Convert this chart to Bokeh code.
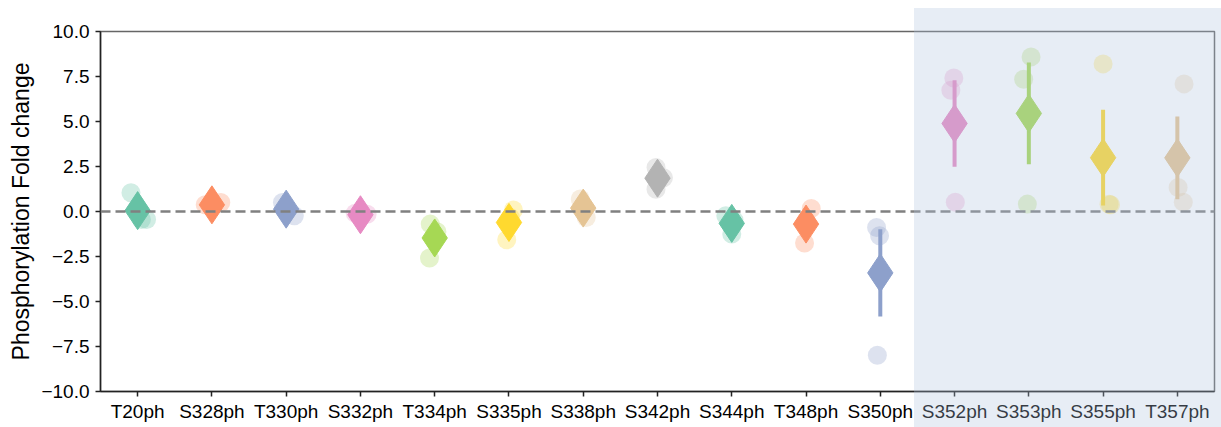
from bokeh.plotting import figure
from bokeh.models import FactorRange, Range1d, FixedTicker, Span, ColumnDataSource, InlineStyleSheet
from bokeh.embed import file_html
from bokeh.resources import INLINE

sites = ["T20ph", "S328ph", "T330ph", "S332ph", "T334ph", "S335ph", "S338ph", "S342ph",
         "S344ph", "T348ph", "S350ph", "S352ph", "S353ph", "S355ph", "T357ph"]
means = [0.05, 0.37, 0.13, -0.18, -1.47, -0.61, 0.19, 1.85, -0.66, -0.70, -3.41,
         4.89, 5.45, 2.99, 2.98]
sems = [0.50, 0.08, 0.20, 0.06, 0.57, 0.48, 0.30, 0.35, 0.30, 0.56, 2.43,
        2.40, 2.83, 2.66, 2.30]
replicates = [
    [1.04, -0.44, -0.45],
    [0.37, 0.50, 0.24],
    [0.50, -0.24, 0.13],
    [-0.10, -0.15, -0.30],
    [-0.70, -2.58, -1.13],
    [0.08, -1.57, -0.34],
    [0.69, -0.33, 0.21],
    [2.44, 1.24, 1.88],
    [-0.24, -1.25, -0.49],
    [0.17, -1.75, -0.52],
    [-0.89, -1.35, -7.99],
    [7.42, 6.74, 0.52],
    [8.59, 7.35, 0.41],
    [8.20, 0.37, 0.40],
    [7.09, 1.33, 0.52],
]
jitter = [
    [-0.09, 0.12, 0.05],
    [-0.09, 0.12, 0.00],
    [-0.05, 0.11, 0.00],
    [-0.07, 0.09, 0.00],
    [-0.06, -0.07, 0.03],
    [0.06, -0.03, 0.02],
    [-0.04, 0.04, 0.00],
    [-0.02, -0.02, 0.08],
    [-0.08, 0.00, 0.03],
    [0.07, -0.02, 0.00],
    [-0.05, -0.01, -0.04],
    [-0.01, -0.05, 0.01],
    [0.03, -0.07, -0.02],
    [0.00, 0.10, 0.08],
    [0.09, 0.01, 0.08],
]
y_ticks = [-10.0, -7.5, -5.0, -2.5, 0.0, 2.5, 5.0, 7.5, 10.0]
y_tick_labels = ["\u221210.0", "\u22127.5", "\u22125.0", "\u22122.5", "0.0", "2.5", "5.0", "7.5", "10.0"]
set2 = ["#66c2a5", "#fc8d62", "#8da0cb", "#e78ac3", "#a6d854", "#ffd92f", "#e5c494", "#b3b3b3"]

colors = [set2[i % len(set2)] for i in range(len(sites))]

FONT = "Liberation Sans"

# translucent band over the last sites, reaching past the frame over the tick labels
band_css = InlineStyleSheet(css="""
:host { position: relative; }
:host::after {
  content: "";
  position: absolute;
  left: 914px; top: 8px; width: 307px; height: 419px;
  background-color: rgba(176, 196, 222, 0.3);
  pointer-events: none;
  z-index: 10;
}
""")

p = figure(width=1221, height=427, output_backend="svg", toolbar_location=None,
           x_range=FactorRange(factors=sites, range_padding=0),
           y_range=Range1d(-10, 10),
           min_border_left=100, min_border_right=7, min_border_top=31, min_border_bottom=36,
           stylesheets=[band_css])
p.grid.visible = False
p.outline_line_color = "#666666"
p.outline_line_width = 1.5

# replicate points
px, py, pc = [], [], []
for i, s in enumerate(sites):
    for v, off in zip(replicates[i], jitter[i]):
        px.append((s, off))
        py.append(v)
        pc.append(colors[i])
p.scatter(x=px, y=py, color=pc, size=19, fill_alpha=0.3, line_alpha=0)

# error bars (mean +/- sem)
src = ColumnDataSource(dict(
    x=sites, m=means,
    lo=[m - e for m, e in zip(means, sems)],
    hi=[m + e for m, e in zip(means, sems)],
    c=colors))
p.segment(x0="x", x1="x", y0="lo", y1="hi", line_color="c", line_width=4, source=src)
p.scatter(x="x", y="m", marker="diamond", size=38, fill_color="c", line_color="c",
          line_width=1, source=src)

p.add_layout(Span(location=0, dimension="width", line_color="#808080", line_width=2.5,
                  line_dash="10 5"))

# axes
p.yaxis.ticker = FixedTicker(ticks=y_ticks)
p.yaxis.major_label_overrides = {t: l for t, l in zip(y_ticks, y_tick_labels)}
for ax in (p.xaxis[0], p.yaxis[0]):
    ax.major_label_text_font = FONT
    ax.major_label_text_font_size = "19px"
    ax.major_label_text_color = "#000000"
    ax.axis_line_color = "#222222"
    ax.axis_line_width = 1.5
    ax.major_tick_line_color = "#222222"
    ax.major_tick_line_width = 1.5
    ax.major_tick_out = 5
    ax.major_tick_in = 0
    ax.minor_tick_line_color = None
    ax.major_label_standoff = 6
p.xaxis.major_label_standoff = 4
p.yaxis.axis_label = "Phosphorylation Fold change"
p.yaxis.axis_label_text_font = FONT
p.yaxis.axis_label_text_font_size = "23px"
p.yaxis.axis_label_text_font_style = "normal"
p.yaxis.axis_label_text_color = "#000000"
p.yaxis.axis_label_standoff = 4

open("out.html", "w").write(file_html(p, INLINE))
